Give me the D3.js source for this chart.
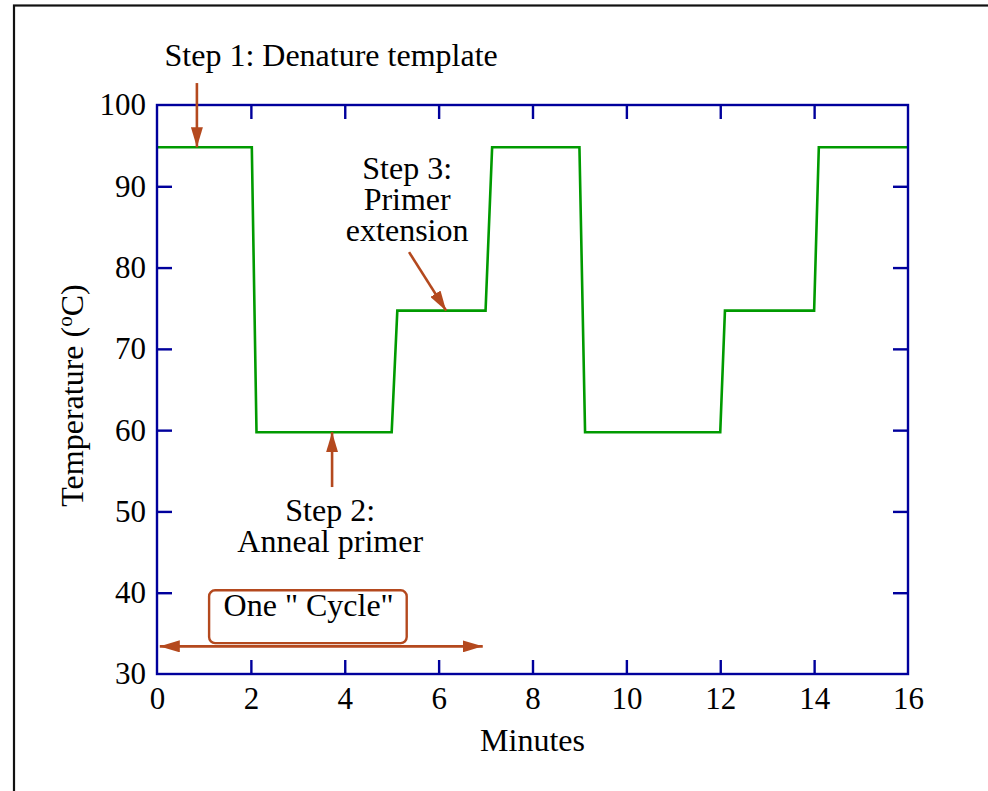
<!DOCTYPE html>
<html>
<head>
<meta charset="utf-8">
<script src="https://cdn.jsdelivr.net/npm/d3@7"></script>
<style>
  html, body { margin: 0; padding: 0; background: #fff; }
  svg { display: block; }
  text { font-family: "Liberation Serif", "Times New Roman", serif; fill: #000; }
</style>
</head>
<body>
<script>
// ---- data ----
const minutes      = [0,    2.02, 2.12,  5.0,   5.12, 7.0,  7.14, 9.0,  9.12,  12.0,  12.1, 14.0, 14.1, 16];
const temperatures = [94.8, 94.8, 59.75, 59.75, 74.7, 74.7, 94.8, 94.8, 59.75, 59.75, 74.7, 74.7, 94.8, 94.8];
const xTicks = [0, 2, 4, 6, 8, 10, 12, 14, 16];
const yTicks = [30, 40, 50, 60, 70, 80, 90, 100];
const xTitle = "Minutes";

// annotations in data units
const arrowStarts = [[0.85, 102.7], [3.73, 53.0], [5.37, 81.9]];
const arrowEnds   = [[0.85, 94.8],  [3.73, 59.75], [6.16, 74.7]];
const labelLines = [
  { x: 3.71, y: 104.8, lines: ["Step 1: Denature template"] },
  { x: 5.33, y: 90.9,  lines: ["Step 3:", "Primer", "extension"] },
  { x: 3.69, y: 48.8,  lines: ["Step 2:", "Anneal primer"] }
];
const cycleLabel = 'One " Cycle"';
const cycleSpan = [0.06, 6.94, 33.4];

// ---- layout ----
const W = 988, H = 791;
const mLeft = 157, mRight = 908, mTop = 105, mBottom = 674;
const brown = "#b4491e", blue = "#00009c", green = "#009a00";

const svg = d3.select("body").append("svg").attr("width", W).attr("height", H);

// outer frame
svg.append("rect").attr("x", 14).attr("y", 5.5).attr("width", W + 20).attr("height", H + 20)
  .attr("fill", "none").attr("stroke", "#111").attr("stroke-width", 2.2);

const x = d3.scaleLinear().domain([0, 16]).range([mLeft, mRight]);
const y = d3.scaleLinear().domain([30, 100]).range([mBottom, mTop]);

const defs = svg.append("defs");
defs.append("marker").attr("id", "ah").attr("viewBox", "0 0 20 12")
  .attr("refX", 20).attr("refY", 6).attr("markerWidth", 20).attr("markerHeight", 12)
  .attr("markerUnits", "userSpaceOnUse").attr("orient", "auto-start-reverse")
  .append("path").attr("d", "M0,0 L20,6 L0,12 Z").attr("fill", brown);

// axes
const axisG = svg.append("g");
function styleAxis(g) {
  g.select(".domain").remove();
  g.selectAll(".tick line").attr("stroke", blue).attr("stroke-width", 2.4);
  g.selectAll(".tick text").style("font-size", "31px").attr("fill", "#000");
}
function dropEnds(g, ends) {
  g.selectAll(".tick").filter(d => ends.includes(d)).select("line").remove();
}
axisG.append("g").attr("transform", `translate(0,${mBottom})`)
  .call(d3.axisBottom(x).tickValues(xTicks).tickSize(-14).tickFormat(d3.format("d")))
  .call(styleAxis)
  .call(g => g.selectAll(".tick text").attr("y", 13).attr("dy", "0.71em"))
  .call(g => dropEnds(g, [0, 16]));
axisG.append("g").attr("transform", `translate(0,${mTop})`)
  .call(d3.axisTop(x).tickValues(xTicks).tickSize(-14).tickFormat(""))
  .call(styleAxis)
  .call(g => dropEnds(g, [0, 16]));
axisG.append("g").attr("transform", `translate(${mLeft},0)`)
  .call(d3.axisLeft(y).tickValues(yTicks).tickSize(-15).tickFormat(d3.format("d")))
  .call(styleAxis)
  .call(g => g.selectAll(".tick text").attr("x", -11))
  .call(g => dropEnds(g, [30, 100]));
axisG.append("g").attr("transform", `translate(${mRight},0)`)
  .call(d3.axisRight(y).tickValues(yTicks).tickSize(-15).tickFormat(""))
  .call(styleAxis)
  .call(g => dropEnds(g, [30, 100]));

// data line
const pts = minutes.map((m, i) => [m, temperatures[i]]);
svg.append("path").datum(pts)
  .attr("d", d3.line().x(d => x(d[0])).y(d => y(d[1])))
  .attr("fill", "none").attr("stroke", green).attr("stroke-width", 2.6).attr("stroke-linejoin", "miter");

// plot frame
svg.append("rect").attr("x", mLeft).attr("y", mTop).attr("width", mRight - mLeft).attr("height", mBottom - mTop)
  .attr("fill", "none").attr("stroke", blue).attr("stroke-width", 2.4);

// axis titles
svg.append("text").attr("x", x(8)).attr("y", 751).attr("text-anchor", "middle")
  .style("font-size", "32px").text(xTitle);
const yt = svg.append("text").attr("transform", `translate(83,${(mTop + mBottom) / 2 + 6}) rotate(-90)`)
  .attr("text-anchor", "middle").style("font-size", "32px");
yt.append("tspan").text("Temperature (");
yt.append("tspan").attr("dy", -11).style("font-size", "21px").text("o");
yt.append("tspan").attr("dy", 11).text("C)");

// annotation arrows
arrowStarts.forEach((s, i) => {
  const e = arrowEnds[i];
  svg.append("line").attr("x1", x(s[0])).attr("y1", y(s[1])).attr("x2", x(e[0])).attr("y2", y(e[1]))
    .attr("stroke", brown).attr("stroke-width", 2.6).attr("marker-end", "url(#ah)");
});

// annotation labels (one text element per label, lines as tspans)
labelLines.forEach(l => {
  const t = svg.append("text").attr("x", x(l.x)).attr("y", y(l.y)).attr("text-anchor", "middle")
    .style("font-size", "32px");
  l.lines.forEach((s, j) => {
    t.append("tspan").attr("x", x(l.x)).attr("dy", j === 0 ? 0 : 30.8).text(s);
  });
});

// cycle box
svg.append("rect")
  .attr("x", x(1.11)).attr("y", y(40.3)).attr("width", x(5.32) - x(1.11)).attr("height", y(33.8) - y(40.3))
  .attr("rx", 6).attr("fill", "#fff").attr("stroke", brown).attr("stroke-width", 2.4);
svg.append("text").attr("x", x(3.23)).attr("y", y(37.15)).attr("text-anchor", "middle")
  .style("font-size", "32px").text(cycleLabel);
svg.append("line").attr("x1", x(cycleSpan[0])).attr("x2", x(cycleSpan[1]))
  .attr("y1", y(cycleSpan[2])).attr("y2", y(cycleSpan[2]))
  .attr("stroke", brown).attr("stroke-width", 2.6)
  .attr("marker-start", "url(#ah)").attr("marker-end", "url(#ah)");
</script>
</body>
</html>
